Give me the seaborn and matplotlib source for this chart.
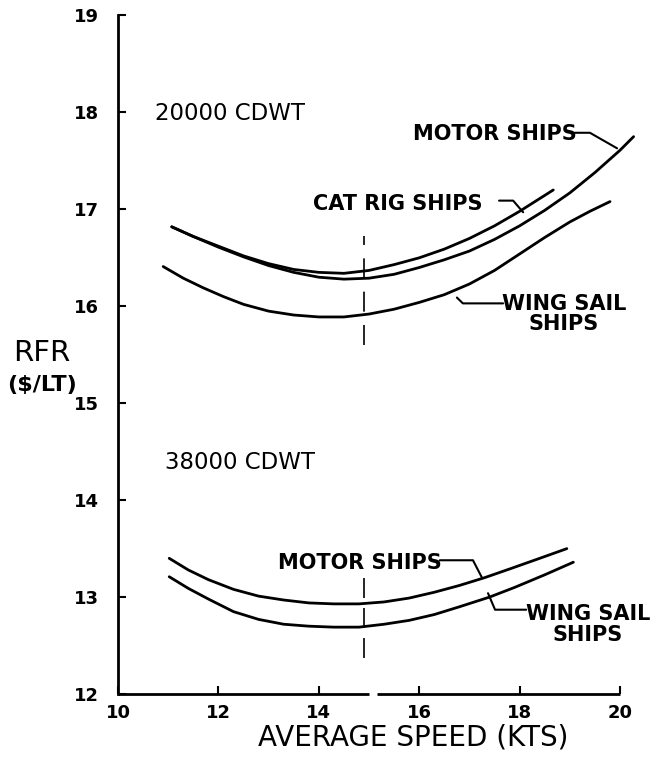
import matplotlib
matplotlib.use("Agg")
import matplotlib.pyplot as plt
import seaborn as sns
import pandas as pd

# Required freight rate vs. average speed, two ship sizes

# 20000 CDWT
motor20_speed = [11.07, 11.5, 12.0, 12.5, 13.0, 13.5, 14.0, 14.5, 15.0, 15.5, 16.0, 16.5,
                 17.0, 17.5, 18.0, 18.5, 19.0, 19.5, 20.0, 20.27]
motor20_rfr = [16.82, 16.72, 16.61, 16.51, 16.42, 16.35, 16.30, 16.28, 16.29, 16.33, 16.40, 16.48,
               16.57, 16.69, 16.83, 16.99, 17.17, 17.38, 17.61, 17.75]

catrig20_speed = [11.07, 11.5, 12.0, 12.5, 13.0, 13.5, 14.0, 14.5, 15.0, 15.5, 16.0, 16.5,
                  17.0, 17.5, 18.0, 18.67]
catrig20_rfr = [16.82, 16.72, 16.62, 16.52, 16.44, 16.38, 16.35, 16.34, 16.37, 16.43, 16.50, 16.59,
                16.70, 16.83, 16.98, 17.20]

wing20_speed = [10.9, 11.3, 11.7, 12.1, 12.5, 13.0, 13.5, 14.0, 14.5, 15.0, 15.5, 16.0, 16.5,
                17.0, 17.5, 18.0, 18.5, 19.0, 19.4, 19.8]
wing20_rfr = [16.41, 16.29, 16.19, 16.10, 16.02, 15.95, 15.91, 15.89, 15.89, 15.92, 15.97, 16.04, 16.12,
              16.23, 16.37, 16.54, 16.71, 16.87, 16.98, 17.08]

# 38000 CDWT
motor38_speed = [11.02, 11.4, 11.8, 12.3, 12.8, 13.3, 13.8, 14.3, 14.8, 15.3, 15.8, 16.3,
                 16.8, 17.3, 17.8, 18.4, 18.94]
motor38_rfr = [13.40, 13.28, 13.18, 13.08, 13.01, 12.97, 12.94, 12.93, 12.93, 12.95, 12.99, 13.05,
               13.12, 13.20, 13.29, 13.40, 13.50]

wing38_speed = [11.02, 11.4, 11.8, 12.3, 12.8, 13.3, 13.8, 14.3, 14.8, 15.3, 15.8, 16.3,
                16.8, 17.4, 17.9, 18.5, 19.07]
wing38_rfr = [13.21, 13.09, 12.98, 12.85, 12.77, 12.72, 12.70, 12.69, 12.69, 12.72, 12.76, 12.82,
              12.90, 13.00, 13.10, 13.23, 13.36]

design_speed = 14.9

x_ticks = [10, 12, 14, 16, 18, 20]
x_tick_labels = ["10", "12", "14", "16", "18", "20"]
y_ticks = [12, 13, 14, 15, 16, 17, 18, 19]
y_tick_labels = ["12", "13", "14", "15", "16", "17", "18", "19"]

sns.set_style("white")
plt.rcParams["font.family"] = ["DejaVu Sans"]
plt.rcParams["text.color"] = "black"

fig = plt.figure(figsize=(6.52, 7.59), dpi=100)
ax = fig.add_axes([0.181, 0.0856, 0.77, 0.894])

curves = [
    (motor20_speed, motor20_rfr),
    (catrig20_speed, catrig20_rfr),
    (wing20_speed, wing20_rfr),
    (motor38_speed, motor38_rfr),
    (wing38_speed, wing38_rfr),
]
for xs, ys in curves:
    df = pd.DataFrame({"speed": xs, "rfr": ys})
    sns.lineplot(data=df, x="speed", y="rfr", ax=ax, color="black",
                 linewidth=2.0, estimator=None, sort=False, clip_on=False)
for line in ax.get_lines():
    line.set_solid_joinstyle("round")
    line.set_solid_capstyle("round")

ax.set_xlim(10, 20)
ax.set_ylim(12, 19)

# design-speed markers
ax.vlines(design_speed, 15.6, 16.72, color="black", linewidth=1.2,
          linestyles=(0, (12, 8)))
ax.vlines(design_speed, 12.37, 13.21, color="black", linewidth=1.2,
          linestyles=(0, (12, 6)))

# axes frame, with a small break in the speed axis
for side in ["top", "right", "bottom"]:
    ax.spines[side].set_visible(False)
ax.spines["left"].set_linewidth(2.0)
ax.spines["left"].set_color("black")
ax.hlines([12, 12], [10, 15.15], [15.0, 20], color="black", linewidth=2.0, clip_on=False)

ax.set_xticks(x_ticks)
ax.set_xticklabels(x_tick_labels)
ax.set_yticks(y_ticks)
ax.set_yticklabels(y_tick_labels)
ax.tick_params(axis="both", direction="in", length=6, width=1.5, color="black",
               labelsize=13, labelcolor="black")
ax.tick_params(axis="x", pad=7, bottom=True)
ax.tick_params(axis="y", pad=14, left=True)
for lbl in ax.get_xticklabels() + ax.get_yticklabels():
    lbl.set_fontweight("bold")
ax.set_xlabel("")
ax.set_ylabel("")

# group headings
ax.text(10.74, 17.99, "20000 CDWT", fontsize=16.5, ha="left", va="center", color="black")
ax.text(10.94, 14.39, "38000 CDWT", fontsize=16.5, ha="left", va="center", color="black")

lab = dict(fontsize=15, fontweight="bold", color="black")
lead = dict(color="black", linewidth=1.5, clip_on=False)

# 20000 CDWT labels
ax.text(15.88, 17.78, "MOTOR SHIPS", ha="left", va="center", **lab)
ax.plot([19.1, 19.4, 19.94], [17.79, 17.79, 17.63], **lead)
ax.text(13.88, 17.06, "CAT RIG SHIPS", ha="left", va="center", **lab)
ax.plot([17.59, 17.87, 18.07], [17.09, 17.09, 16.97], **lead)
ax.text(18.88, 15.92, "WING SAIL\nSHIPS", ha="center", va="center",
        multialignment="center", linespacing=1.05, **lab)
ax.plot([17.67, 16.87, 16.75], [16.03, 16.03, 16.09], **lead)

# 38000 CDWT labels
ax.text(13.19, 13.35, "MOTOR SHIPS", ha="left", va="center", **lab)
ax.plot([16.41, 17.07, 17.25], [13.38, 13.38, 13.20], **lead)
ax.text(19.36, 12.72, "WING SAIL\nSHIPS", ha="center", va="center",
        multialignment="center", linespacing=1.05, **lab)
ax.plot([18.13, 17.51, 17.37], [12.87, 12.87, 13.04], **lead)

# axis titles
fig.text(0.064, 0.535, "RFR", fontsize=21, ha="center", va="center", color="black")
fig.text(0.064, 0.493, "($/LT)", fontsize=16, ha="center", va="center",
         fontweight="bold", color="black")
fig.text(0.633, 0.028, "AVERAGE SPEED (KTS)", fontsize=20, ha="center", va="center",
         color="black")

fig.savefig("out.png", dpi=100, facecolor="white")
